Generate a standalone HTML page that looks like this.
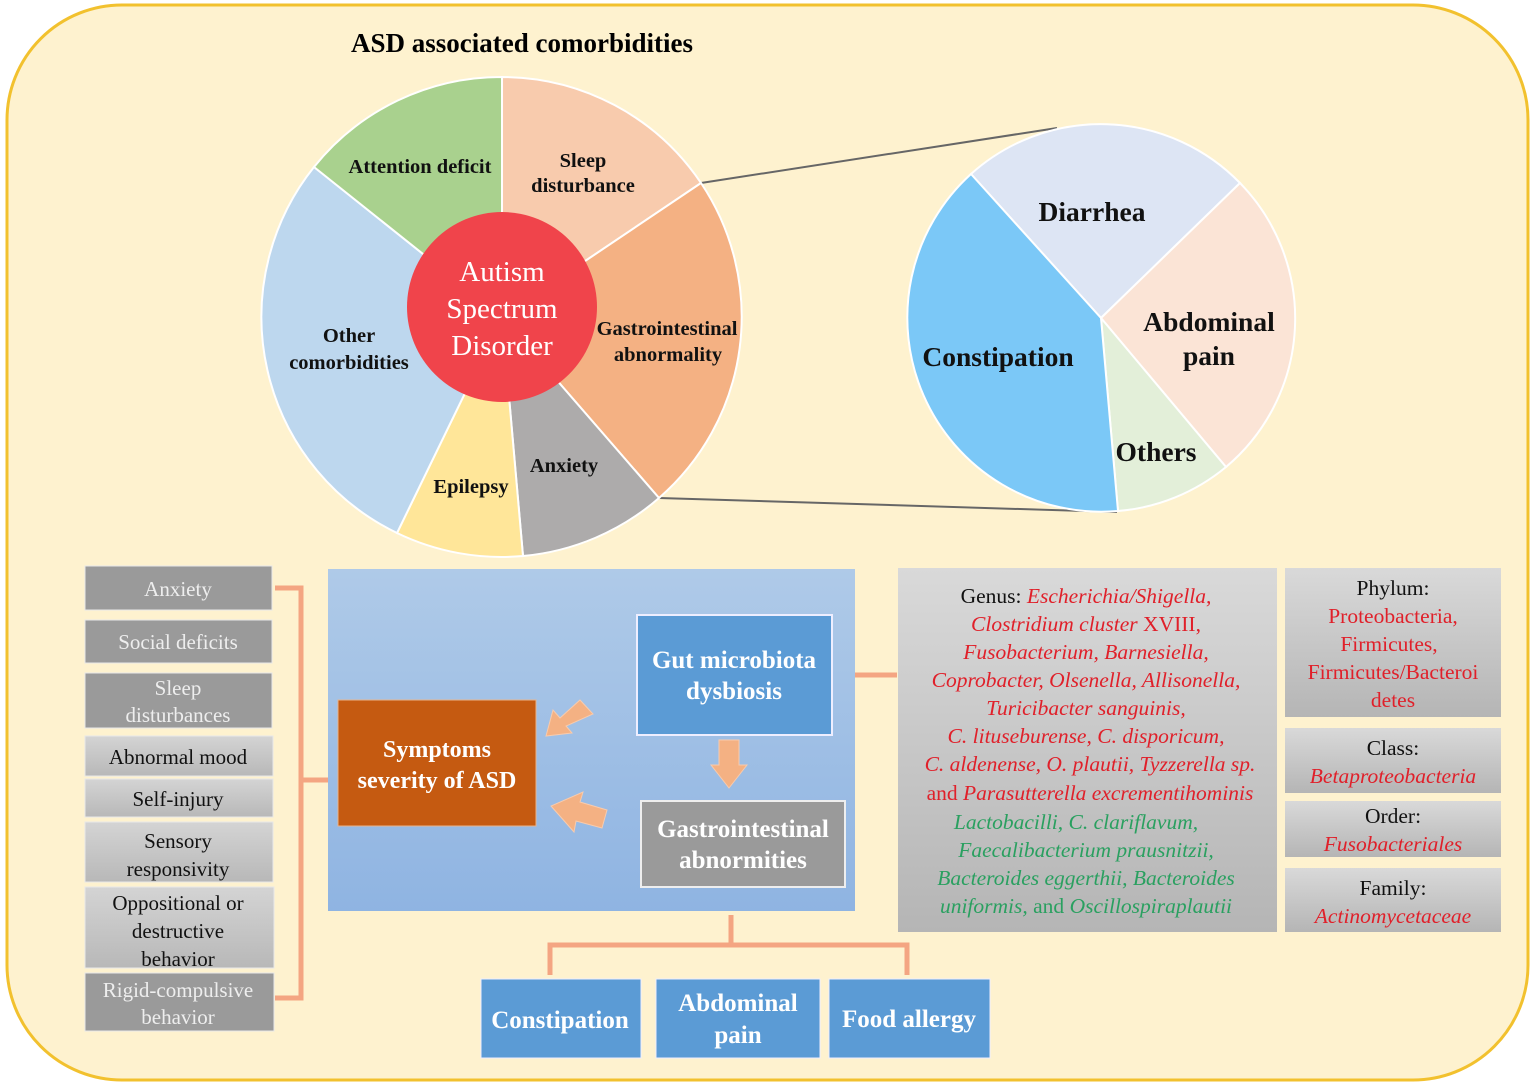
<!DOCTYPE html>
<html><head><meta charset="utf-8"><style>
body{margin:0;background:#fff}
svg{display:block}
text{font-family:"Liberation Serif",serif}
</style></head><body>
<svg width="1535" height="1087" viewBox="0 0 1535 1087" xmlns="http://www.w3.org/2000/svg">
<defs>
<linearGradient id="bg" x1="0" y1="0" x2="0" y2="1"><stop offset="0" stop-color="#afcae8"/><stop offset="1" stop-color="#8fb4e2"/></linearGradient>
<linearGradient id="gr" x1="0" y1="0" x2="0" y2="1"><stop offset="0" stop-color="#d9d9d9"/><stop offset="1" stop-color="#b5b5b5"/></linearGradient>
<linearGradient id="gs" x1="0" y1="0" x2="0" y2="1"><stop offset="0" stop-color="#d4d4d4"/><stop offset="1" stop-color="#b8b8b8"/></linearGradient>
</defs>
<rect x="7" y="5" width="1521" height="1075" rx="115" fill="#fef2cf" stroke="#f2c12e" stroke-width="3"/>
<text x="522" y="52" font-size="27" font-weight="bold" text-anchor="middle">ASD associated comorbidities</text>
<line x1="701" y1="183" x2="1057" y2="128" stroke="#666" stroke-width="2"/>
<line x1="659" y1="498" x2="1117" y2="512" stroke="#666" stroke-width="2"/>
<g stroke="#fff" stroke-width="2">
<path d="M502,317 L502,77 A240,240 0 0 1 701,183 Z" fill="#f8cbad"/>
<path d="M502,317 L701,183 A240,240 0 0 1 659,498 Z" fill="#f4b183"/>
<path d="M502,317 L659,498 A240,240 0 0 1 523,556 Z" fill="#adabab"/>
<path d="M502,317 L523,556 A240,240 0 0 1 397,533 Z" fill="#ffe699"/>
<path d="M502,317 L397,533 A240,240 0 0 1 314,167 Z" fill="#bdd7ee"/>
<path d="M502,317 L314,167 A240,240 0 0 1 502,77 Z" fill="#a9d18e"/>
</g>
<circle cx="502" cy="307" r="95" fill="#f0444b"/>
<g fill="#fff" font-size="29" text-anchor="middle"><text x="502" y="281">Autism</text><text x="502" y="318">Spectrum</text><text x="502" y="355">Disorder</text></g>
<g font-size="20.5" font-weight="bold" text-anchor="middle" fill="#111">
<text x="420" y="173">Attention deficit</text>
<text x="583" y="167">Sleep</text><text x="583" y="192">disturbance</text>
<text x="667" y="335">Gastrointestinal</text><text x="668" y="361">abnormality</text>
<text x="564" y="472">Anxiety</text>
<text x="471" y="493">Epilepsy</text>
<text x="349" y="342">Other</text><text x="349" y="369">comorbidities</text>
</g>
<g stroke="#fff" stroke-width="2">
<path d="M1101,318 L971,174 A194,194 0 0 1 1240,183 Z" fill="#dde5f4"/>
<path d="M1101,318 L1240,183 A194,194 0 0 1 1226,467 Z" fill="#fbe4d6"/>
<path d="M1101,318 L1226,467 A194,194 0 0 1 1118,511 Z" fill="#e3efd9"/>
<path d="M1101,318 L1118,511 A194,194 0 0 1 971,174 Z" fill="#7bc8f7"/>
</g>
<g font-size="27.5" font-weight="bold" text-anchor="middle" fill="#111">
<text x="1092" y="221">Diarrhea</text>
<text x="1209" y="331">Abdominal</text><text x="1209" y="365">pain</text>
<text x="998" y="366">Constipation</text>
<text x="1156" y="461">Others</text>
</g>
<g font-size="21" text-anchor="middle">
<rect x="85" y="566" width="187" height="44" fill="#9a9a9a" stroke="#e8e8e8"/><text x="178" y="596" fill="#eee">Anxiety</text>
<rect x="85" y="620" width="187" height="43" fill="#9a9a9a" stroke="#e8e8e8"/><text x="178" y="649" fill="#eee">Social deficits</text>
<rect x="85" y="673" width="187" height="55" fill="#9a9a9a" stroke="#e8e8e8"/><text x="178" y="695" fill="#eee">Sleep</text><text x="178" y="722" fill="#eee">disturbances</text>
<rect x="85" y="736" width="188" height="40" fill="url(#gs)" stroke="#e8e8e8"/><text x="178" y="764" fill="#111">Abnormal mood</text>
<rect x="85" y="779" width="188" height="38" fill="url(#gs)" stroke="#e8e8e8"/><text x="178" y="806" fill="#111">Self-injury</text>
<rect x="85" y="822" width="188" height="60" fill="url(#gs)" stroke="#e8e8e8"/><text x="178" y="848" fill="#111">Sensory</text><text x="178" y="876" fill="#111">responsivity</text>
<rect x="85" y="887" width="189" height="81" fill="url(#gs)" stroke="#e8e8e8"/><text x="178" y="910" fill="#111">Oppositional or</text><text x="178" y="938" fill="#111">destructive</text><text x="178" y="966" fill="#111">behavior</text>
<rect x="85" y="973" width="189" height="58" fill="#9a9a9a" stroke="#e8e8e8"/><text x="178" y="997" fill="#eee">Rigid-compulsive</text><text x="178" y="1024" fill="#eee">behavior</text>
</g>
<g stroke="#f4a582" stroke-width="5" fill="none">
<path d="M275,588 H301 V998 H275"/>
<path d="M301,780 H330"/>
<path d="M855,675 H897"/>
<path d="M731,915 V945 M550,975 V945 H907 V975"/>
</g>
<rect x="328" y="569" width="527" height="342" fill="url(#bg)"/>
<rect x="338" y="700" width="198" height="126" fill="#c55a11" stroke="#e9b48c"/>
<g fill="#fff" font-size="24" font-weight="bold" text-anchor="middle"><text x="437" y="757">Symptoms</text><text x="437" y="788">severity of ASD</text></g>
<rect x="637" y="615" width="195" height="120" fill="#5b9bd5" stroke="#eef" stroke-width="2"/>
<g fill="#fff" font-size="25" font-weight="bold" text-anchor="middle"><text x="734" y="668">Gut microbiota</text><text x="734" y="699">dysbiosis</text></g>
<rect x="641" y="801" width="204" height="86" fill="#9a9a9a" stroke="#eee" stroke-width="2"/>
<g fill="#fff" font-size="25" font-weight="bold" text-anchor="middle"><text x="743" y="837">Gastrointestinal</text><text x="743" y="868">abnormities</text></g>
<g fill="#f4b183" stroke="#f8cbad">
<path d="M719,740 H739 V765 H747 L729,788 L711,765 H719 Z"/>
<path d="M593,714 L580,700 L560,718 L553,710 L546,736 L572,733 L566,726 Z"/>
<path d="M602,828 L607,810 L580,802 L583,792 L551,806 L574,832 L576,821 Z"/>
</g>
<rect x="481" y="979" width="160" height="79" fill="#5b9bd5" stroke="#eef"/>
<rect x="656" y="979" width="164" height="79" fill="#5b9bd5" stroke="#eef"/>
<rect x="829" y="979" width="161" height="79" fill="#5b9bd5" stroke="#eef"/>
<g fill="#fff" font-size="25" font-weight="bold" text-anchor="middle">
<text x="560" y="1028">Constipation</text>
<text x="738" y="1011">Abdominal</text><text x="738" y="1043">pain</text>
<text x="909" y="1027">Food allergy</text>
</g>
<rect x="898" y="568" width="379" height="364" fill="url(#gr)"/>
<g font-size="21.5" text-anchor="middle" font-style="italic" fill="#e0202a">
<text x="1086" y="603"><tspan fill="#111" font-style="normal">Genus:  </tspan>Escherichia/Shigella,</text>
<text x="1086" y="631">Clostridium cluster <tspan font-style="normal">XVIII,</tspan></text>
<text x="1086" y="659">Fusobacterium, Barnesiella,</text>
<text x="1086" y="687">Coprobacter, Olsenella, Allisonella,</text>
<text x="1086" y="715">Turicibacter sanguinis,</text>
<text x="1086" y="743">C. lituseburense, C. disporicum,</text>
<text x="1090" y="771">C. aldenense, O. plautii, Tyzzerella sp.</text>
<text x="1090" y="800"><tspan font-style="normal">and </tspan>Parasutterella excrementihominis</text>
<g fill="#2aa060">
<text x="1076" y="829">Lactobacilli, C. clariflavum,</text>
<text x="1086" y="857">Faecalibacterium prausnitzii,</text>
<text x="1086" y="885">Bacteroides eggerthii, Bacteroides</text>
<text x="1086" y="913">uniformis, <tspan font-style="normal">and </tspan>Oscillospiraplautii</text>
</g>
</g>
<rect x="1285" y="568" width="216" height="149" fill="url(#gr)"/>
<rect x="1285" y="728" width="216" height="65" fill="url(#gr)"/>
<rect x="1285" y="801" width="216" height="56" fill="url(#gr)"/>
<rect x="1285" y="868" width="216" height="64" fill="url(#gr)"/>
<g font-size="21.5" text-anchor="middle">
<text x="1393" y="595" fill="#111">Phylum:</text>
<text x="1393" y="623" fill="#e0202a">Proteobacteria,</text>
<text x="1389" y="651" fill="#e0202a">Firmicutes,</text>
<text x="1393" y="679" fill="#e0202a">Firmicutes/Bacteroi</text>
<text x="1393" y="707" fill="#e0202a">detes</text>
<text x="1393" y="755" fill="#111">Class:</text>
<text x="1393" y="783" fill="#e0202a" font-style="italic">Betaproteobacteria</text>
<text x="1393" y="823" fill="#111">Order:</text>
<text x="1393" y="851" fill="#e0202a" font-style="italic">Fusobacteriales</text>
<text x="1393" y="895" fill="#111">Family:</text>
<text x="1393" y="923" fill="#e0202a" font-style="italic">Actinomycetaceae</text>
</g>
</svg>
</body></html>
